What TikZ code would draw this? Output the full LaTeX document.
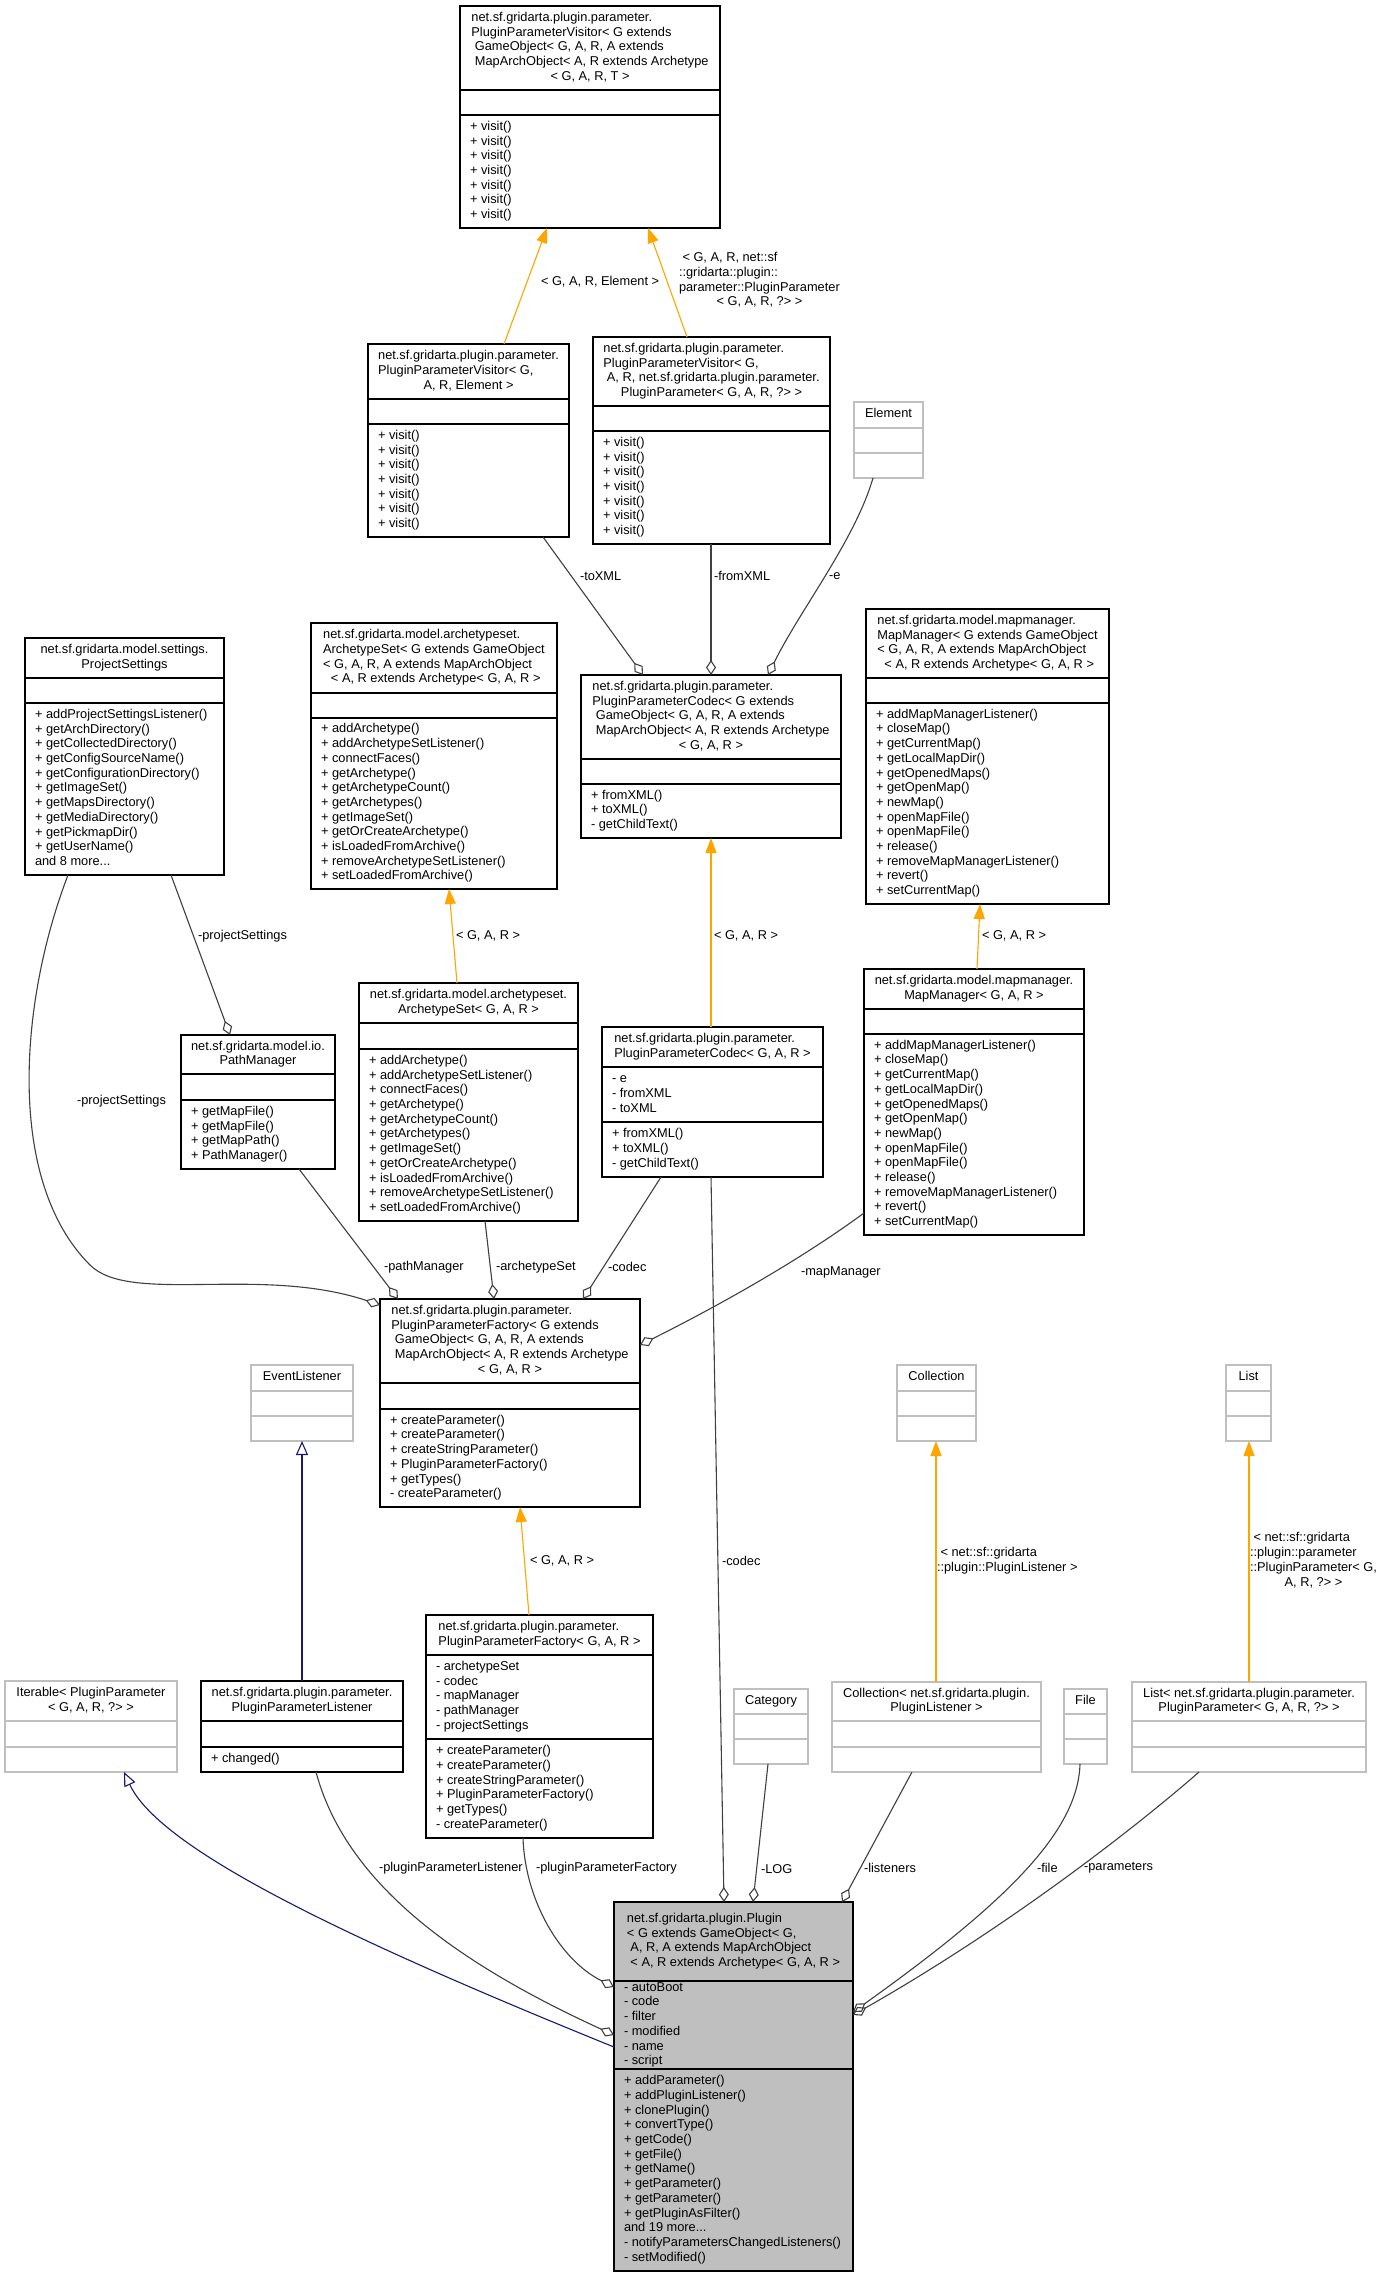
\documentclass[tikz,border=0pt]{standalone}
\usepackage{fontspec}
\setmainfont{Liberation Sans}
\usetikzlibrary{arrows.meta}
\definecolor{edgegray}{HTML}{404040}
\definecolor{tmplorange}{HTML}{FFA500}
\definecolor{gennavy}{HTML}{191970}
\definecolor{boxgray}{HTML}{BFBFBF}
\newcommand\dgfont{\fontsize{12.8}{14.7}\selectfont}
\newcommand\lsp{\hspace*{3.5pt}}
\newcommand\lastc[1]{\multicolumn{1}{@{}c@{}}{#1}}
\newcommand\txtlines[1]{\begin{tabular}{@{}l@{}}#1\end{tabular}}
% name, style, x1, y1, x2, y2, sep1, sep2, title
\newcommand\classbox[9]{%
  \node[#2, anchor=north west, minimum width={(#5-#3)*1pt}, minimum height={(#6-#4)*1pt}] (#1) at (#3,#4) {};
  \draw[#2sep] (#3,#7) -- (#5,#7) (#3,#8) -- (#5,#8);
  \node (#1-t) at ({(#3+#5)/2},{(#4+#7)/2}) {\txtlines{#9}};
}
% name, x1, ya, yb, lines
\newcommand\classlist[5]{%
  \node[anchor=west] (#1) at ({#2+10},{(#3+#4)/2}) {\txtlines{#5}};
}
\newcommand\sevenvisits{+ visit()\\+ visit()\\+ visit()\\+ visit()\\+ visit()\\+ visit()\\+ visit()}
\newcommand\archsetmethods{+ addArchetype()\\+ addArchetypeSetListener()\\+ connectFaces()\\+ getArchetype()\\+ getArchetypeCount()\\+ getArchetypes()\\+ getImageSet()\\+ getOrCreateArchetype()\\+ isLoadedFromArchive()\\+ removeArchetypeSetListener()\\+ setLoadedFromArchive()}
\newcommand\mapmgrmethods{+ addMapManagerListener()\\+ closeMap()\\+ getCurrentMap()\\+ getLocalMapDir()\\+ getOpenedMaps()\\+ getOpenMap()\\+ newMap()\\+ openMapFile()\\+ openMapFile()\\+ release()\\+ removeMapManagerListener()\\+ revert()\\+ setCurrentMap()}
\newcommand\codecmethods{+ fromXML()\\+ toXML()\\- getChildText()}
\newcommand\factorymethods{+ createParameter()\\+ createParameter()\\+ createStringParameter()\\+ PluginParameterFactory()\\+ getTypes()\\- createParameter()}
\begin{document}
\begin{tikzpicture}[x=1pt,y=-1pt,
  every node/.style={font=\dgfont, inner sep=0pt, outer sep=0pt, text=black},
  box/.style={draw=black, line width=1.2pt},
  boxsep/.style={draw=black, line width=1.2pt},
  graybox/.style={draw=boxgray, line width=1.2pt},
  grayboxsep/.style={draw=boxgray, line width=1.2pt},
  plugbox/.style={draw=black, fill=boxgray, line width=1.2pt},
  plugboxsep/.style={draw=black, line width=1.2pt},
  uses/.style={draw=edgegray, line width=1.1pt, -{Diamond[open, length=15pt, width=10pt]}},
  tmpl/.style={draw=tmplorange, line width=1.1pt, -{Triangle[length=15pt, width=11pt]}},
  gen/.style={draw=gennavy, line width=1.1pt, -{Triangle[open, length=14pt, width=12pt]}},
  lbl/.style={anchor=west}]
\useasboundingbox (0,0) rectangle (1382,2277);
\fill[white] (0,0) rectangle (1382,2277);

% ---------- boxes ----------
\classbox{vT}{box}{460}{6}{720}{228}{90}{115}{net.sf.gridarta.plugin.parameter.\\PluginParameterVisitor< G extends\\\lsp GameObject< G, A, R, A extends\\\lsp MapArchObject< A, R extends Archetype\\\lastc{< G, A, R, T >}}
\classlist{vT-m}{460}{115}{228}{\sevenvisits}

\classbox{vE}{box}{368}{344}{569}{537}{399}{424}{net.sf.gridarta.plugin.parameter.\\PluginParameterVisitor< G,\\\lastc{A, R, Element >}}
\classlist{vE-m}{368}{424}{537}{\sevenvisits}

\classbox{vP}{box}{593}{337}{830}{544}{406}{431}{net.sf.gridarta.plugin.parameter.\\PluginParameterVisitor< G,\\\lsp A, R, net.sf.gridarta.plugin.parameter.\\\lastc{PluginParameter< G, A, R, ?> >}}
\classlist{vP-m}{593}{431}{544}{\sevenvisits}

\classbox{elem}{graybox}{854}{402}{923}{478}{428}{453}{\lastc{Element}}

\classbox{ps}{box}{25}{638}{224}{875}{678}{703}{net.sf.gridarta.model.settings.\\\lastc{ProjectSettings}}
\classlist{ps-m}{25}{703}{875}{+ addProjectSettingsListener()\\+ getArchDirectory()\\+ getCollectedDirectory()\\+ getConfigSourceName()\\+ getConfigurationDirectory()\\+ getImageSet()\\+ getMapsDirectory()\\+ getMediaDirectory()\\+ getPickmapDir()\\+ getUserName()\\and 8 more...}

\classbox{asT}{box}{311}{623}{557}{889}{693}{718}{net.sf.gridarta.model.archetypeset.\\ArchetypeSet< G extends GameObject\\< G, A, R, A extends MapArchObject\\\lastc{\lsp< A, R extends Archetype< G, A, R >}}
\classlist{asT-m}{311}{718}{889}{\archsetmethods}

\classbox{cT}{box}{581}{675}{841}{838}{759}{784}{net.sf.gridarta.plugin.parameter.\\PluginParameterCodec< G extends\\\lsp GameObject< G, A, R, A extends\\\lsp MapArchObject< A, R extends Archetype\\\lastc{< G, A, R >}}
\classlist{cT-m}{581}{784}{838}{\codecmethods}

\classbox{mmT}{box}{866}{609}{1109}{904}{678}{703}{net.sf.gridarta.model.mapmanager.\\MapManager< G extends GameObject\\< G, A, R, A extends MapArchObject\\\lastc{\lsp< A, R extends Archetype< G, A, R >}}
\classlist{mmT-m}{866}{703}{904}{\mapmgrmethods}

\classbox{pm}{box}{181}{1035}{335}{1169}{1074}{1100}{net.sf.gridarta.model.io.\\\lastc{PathManager}}
\classlist{pm-m}{181}{1100}{1169}{+ getMapFile()\\+ getMapFile()\\+ getMapPath()\\+ PathManager()}

\classbox{as}{box}{359}{983}{578}{1221}{1023}{1049}{net.sf.gridarta.model.archetypeset.\\\lastc{ArchetypeSet< G, A, R >}}
\classlist{as-m}{359}{1049}{1221}{\archsetmethods}

\classbox{c}{box}{602}{1027}{823}{1177}{1067}{1122}{net.sf.gridarta.plugin.parameter.\\\lastc{PluginParameterCodec< G, A, R >}}
\classlist{c-a}{602}{1067}{1122}{- e\\- fromXML\\- toXML}
\classlist{c-m}{602}{1122}{1177}{\codecmethods}

\classbox{mm}{box}{864}{969}{1084}{1235}{1009}{1034}{net.sf.gridarta.model.mapmanager.\\\lastc{MapManager< G, A, R >}}
\classlist{mm-m}{864}{1034}{1235}{\mapmgrmethods}

\classbox{fT}{box}{380}{1299}{640}{1507}{1383}{1409}{net.sf.gridarta.plugin.parameter.\\PluginParameterFactory< G extends\\\lsp GameObject< G, A, R, A extends\\\lsp MapArchObject< A, R extends Archetype\\\lastc{< G, A, R >}}
\classlist{fT-m}{380}{1409}{1507}{\factorymethods}

\classbox{evl}{graybox}{251}{1365}{353}{1441}{1391}{1416}{\lastc{EventListener}}
\classbox{coll}{graybox}{897}{1365}{976}{1441}{1391}{1416}{\lastc{Collection}}
\classbox{list}{graybox}{1226}{1365}{1271}{1441}{1391}{1416}{\lastc{List}}

\classbox{iter}{graybox}{5}{1681}{177}{1772}{1721}{1747}{Iterable< PluginParameter\\\lastc{< G, A, R, ?> >}}

\classbox{ppl}{box}{201}{1681}{403}{1772}{1721}{1747}{net.sf.gridarta.plugin.parameter.\\\lastc{PluginParameterListener}}
\classlist{ppl-m}{201}{1747}{1772}{+ changed()}

\classbox{f}{box}{426}{1615}{653}{1838}{1655}{1739}{net.sf.gridarta.plugin.parameter.\\\lastc{PluginParameterFactory< G, A, R >}}
\classlist{f-a}{426}{1655}{1739}{- archetypeSet\\- codec\\- mapManager\\- pathManager\\- projectSettings}
\classlist{f-m}{426}{1739}{1838}{\factorymethods}

\classbox{cat}{graybox}{734}{1689}{808}{1764}{1714}{1739}{\lastc{Category}}
\classbox{collP}{graybox}{832}{1682}{1041}{1772}{1721}{1747}{Collection< net.sf.gridarta.plugin.\\\lastc{PluginListener >}}
\classbox{file}{graybox}{1064}{1689}{1107}{1764}{1714}{1739}{\lastc{File}}
\classbox{listP}{graybox}{1132}{1682}{1366}{1772}{1721}{1747}{List< net.sf.gridarta.plugin.parameter.\\\lastc{PluginParameter< G, A, R, ?> >}}

\classbox{plugin}{plugbox}{614}{1902}{853}{2271}{1981}{2069}{net.sf.gridarta.plugin.Plugin\\< G extends GameObject< G,\\\lsp A, R, A extends MapArchObject\\\lastc{\lsp< A, R extends Archetype< G, A, R >}}
\classlist{plugin-a}{614}{1981}{2069}{- autoBoot\\- code\\- filter\\- modified\\- name\\- script}
\classlist{plugin-m}{614}{2069}{2271}{+ addParameter()\\+ addPluginListener()\\+ clonePlugin()\\+ convertType()\\+ getCode()\\+ getFile()\\+ getName()\\+ getParameter()\\+ getParameter()\\+ getPluginAsFilter()\\and 19 more...\\- notifyParametersChangedListeners()\\- setModified()}

% ---------- connectors ----------
\draw[tmpl] (504,0 |- vE.north) -- (547,0 |- vT.south);
\node[lbl] (l-vte) at (541,282) {< G, A, R, Element >};
\draw[tmpl] (687,0 |- vP.north) -- (648,0 |- vT.south);
\node[lbl] (l-vtp) at (679,281) {\txtlines{\lsp< G, A, R, net::sf\\::gridarta::plugin::\\parameter::PluginParameter\\\lastc{< G, A, R, ?> >}}};

\draw[uses] (543,0 |- vE.south) -- (643,0 |- cT.north);
\node[lbl] (l-toxml) at (580,576) {-toXML};
\draw[uses] (711,0 |- vP.south) -- (711,0 |- cT.north);
\node[lbl] (l-fromxml) at (714,576) {-fromXML};
\draw[uses] (873,0 |- elem.south) .. controls (855,540) and (800,610) .. (768,0 |- cT.north);
\node[lbl] (l-e) at (829,576) {-e};

\draw[tmpl] (457,0 |- as.north) -- (449,0 |- asT.south);
\node[lbl] (l-as) at (456,936) {< G, A, R >};
\draw[tmpl] (711,0 |- c.north) -- (711,0 |- cT.south);
\node[lbl] (l-c) at (714,936) {< G, A, R >};
\draw[tmpl] (977,0 |- mm.north) -- (980,0 |- mmT.south);
\node[lbl] (l-mm) at (982,936) {< G, A, R >};

\draw[uses] (171,0 |- ps.south) -- (230,0 |- pm.north);
\node[lbl] (l-ps1) at (198,936) {-projectSettings};
\draw[uses] (68,0 |- ps.south) .. controls (20,1000) and (5,1180) .. (90,1265) .. controls (130,1305) and (260,1265) .. (fT.west |- 0,1305);
\node[lbl] (l-ps2) at (77,1101) {-projectSettings};

\draw[uses] (299,0 |- pm.south) -- (398,0 |- fT.north);
\node[lbl] (l-pm) at (384,1267) {-pathManager};
\draw[uses] (485,0 |- as.south) -- (494,0 |- fT.north);
\node[lbl] (l-asf) at (496,1267) {-archetypeSet};
\draw[uses] (661,0 |- c.south) -- (583,0 |- fT.north);
\node[lbl] (l-codecf) at (608,1267) {-codec};
\draw[uses] (mm.west |- 0,1213) .. controls (800,1260) and (720,1305) .. (fT.east |- 0,1345);
\node[lbl] (l-mmf) at (801,1272) {-mapManager};

\draw[uses] (711,0 |- c.south) -- (724,0 |- plugin.north);
\node[lbl] (l-codecp) at (722,1561) {-codec};

\draw[tmpl] (529,0 |- f.north) -- (520,0 |- fT.south);
\node[lbl] (l-f) at (530,1561) {< G, A, R >};
\draw[tmpl] (936,0 |- collP.north) -- (936,0 |- coll.south);
\node[lbl] (l-coll) at (937,1561) {\txtlines{\lsp< net::sf::gridarta\\::plugin::PluginListener >}};
\draw[tmpl] (1249,0 |- listP.north) -- (1249,0 |- list.south);
\node[lbl] (l-list) at (1250,1561) {\txtlines{\lsp< net::sf::gridarta\\::plugin::parameter\\::PluginParameter< G,\\\lastc{A, R, ?> >}}};

\draw[gen] (302,0 |- ppl.north) -- (302,0 |- evl.south);
\draw[gen] (plugin.west |- 0,2047) .. controls (350,1940) and (160,1850) .. (124,0 |- iter.south);

\draw[uses] (316,0 |- ppl.south) .. controls (345,1880) and (450,1960) .. (plugin.west |- 0,2035);
\node[lbl] (l-ppl) at (379,1868) {-pluginParameterListener};
\draw[uses] (523,0 |- f.south) .. controls (525,1900) and (560,1960) .. (plugin.west |- 0,1987);
\node[lbl] (l-ppf) at (536,1868) {-pluginParameterFactory};
\draw[uses] (768,0 |- cat.south) -- (753,0 |- plugin.north);
\node[lbl] (l-log) at (761,1869) {-LOG};
\draw[uses] (912,0 |- collP.south) -- (842,0 |- plugin.north);
\node[lbl] (l-lis) at (864,1868) {-listeners};
\draw[uses] (1080,0 |- file.south) .. controls (1078,1830) and (1010,1900) .. (plugin.east |- 0,2012);
\node[lbl] (l-file) at (1037,1868) {-file};
\draw[uses] (1199,0 |- listP.south) .. controls (1150,1815) and (1020,1920) .. (plugin.east |- 0,2015);
\node[lbl] (l-par) at (1084,1868) {-parameters};
\end{tikzpicture}
\end{document}
